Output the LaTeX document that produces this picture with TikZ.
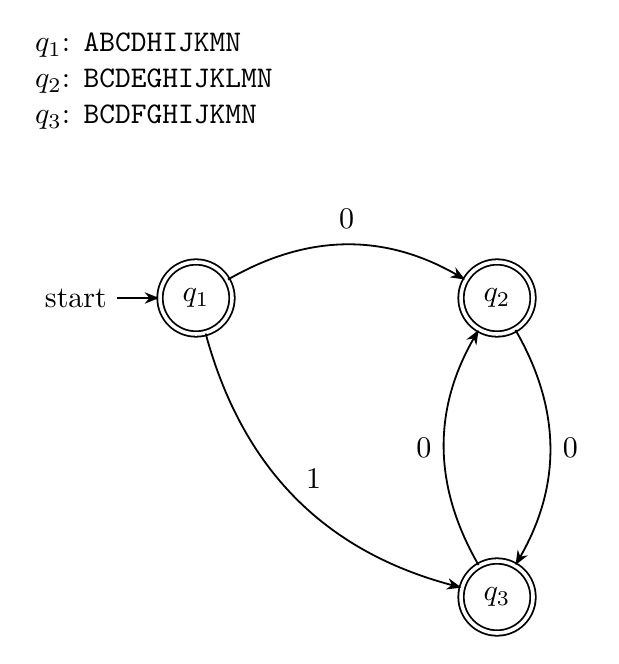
\documentclass[tikz,border=0pt]{standalone}
\usetikzlibrary{arrows.meta}
\begin{document}
\begin{tikzpicture}[
  x=1pt,y=1pt,
  statenode/.style={circle,draw,double,double distance=1.2pt,line width=0.6pt,minimum size=24pt,inner sep=0pt},
  edge/.style={-{Stealth[length=4.8pt,width=3.8pt]},line width=0.6pt},
  lbl/.style={inner sep=0pt,anchor=base west}
]
\useasboundingbox (0,0) rectangle (206,-221.33);
\node[lbl] (t1) at (11.5,-17.3) {$q_1$: \texttt{ABCDHIJKMN}};
\node[lbl] (t2) at (11.5,-29.3) {$q_2$: \texttt{BCDEGHIJKLMN}};
\node[lbl] (t3) at (11.5,-41.3) {$q_3$: \texttt{BCDFGHIJKMN}};

\node[statenode] (q1) at (65.33,-99.33) {$q_1$};
\node[statenode] (q2) at (165.67,-99.33) {$q_2$};
\node[statenode] (q3) at (165.67,-199) {$q_3$};
\node (start) at (25.3,-99.33) {start};

\draw[edge] (start) -- (q1);
\draw[edge] (q1) to[bend left=30] node[above,inner sep=5pt] (l12) {$0$} (q2);
\draw[edge] (q1) to[bend right=30] node[above right,pos=0.5,inner sep=3pt] (l13) {$1$} (q3);
\draw[edge] (q2) to[bend left=30] node[right,inner sep=4pt] (l23) {$0$} (q3);
\draw[edge] (q3) to[bend left=30] node[left,inner sep=4pt] (l32) {$0$} (q2);
\end{tikzpicture}
\end{document}
